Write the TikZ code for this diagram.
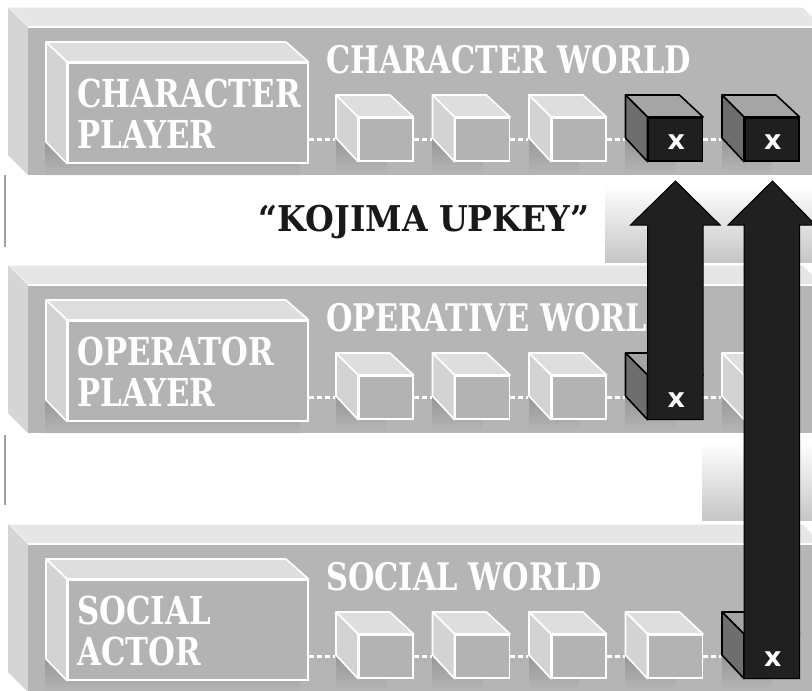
\documentclass[tikz,border=0pt]{standalone}
\usepackage{fontspec}
\setmainfont{DejaVu Serif}[FakeStretch=0.8]
\newfontfamily\xfont{DejaVu Sans}
\newfontfamily\labelfont{DejaVu Serif}[FakeStretch=0.93]
\definecolor{layerfront}{HTML}{B5B5B5}
\definecolor{layertop}{HTML}{E6E6E6}
\definecolor{layerleft}{HTML}{D5D5D5}
\definecolor{lfront}{HTML}{B3B3B3}
\definecolor{ltop}{HTML}{DEDEDE}
\definecolor{lleft}{HTML}{D3D3D3}
\definecolor{dfront}{HTML}{1F1F1F}
\definecolor{dtop}{HTML}{A5A5A5}
\definecolor{dleft}{HTML}{6E6E6E}
\definecolor{arrowfill}{HTML}{202020}
\definecolor{shadowc}{HTML}{969696}
\tikzset{
  cubefrontlight/.style={draw=white, line width=1.6pt, fill=lfront, rectangle, minimum width=54pt, minimum height=43pt, inner sep=0pt},
  cubefrontdark/.style={draw=black, line width=1.6pt, fill=dfront, rectangle, minimum width=54pt, minimum height=43pt, inner sep=0pt},
  facelight/.style={draw=white, line width=1.6pt, line join=round},
  facedark/.style={draw=black, line width=1.6pt, line join=round},
  topcollight/.style={fill=ltop}, leftcollight/.style={fill=lleft},
  topcoldark/.style={fill=dtop}, leftcoldark/.style={fill=dleft},
  playerfront/.style={draw=white, line width=1.6pt, fill=lfront, rectangle, minimum width=240pt, minimum height=100pt, inner sep=0pt},
  playertext/.style={text=white, font=\bfseries\fontsize{38.5}{38.5}\selectfont, anchor=base west, inner sep=0pt},
  worldtext/.style={text=white, font=\bfseries\fontsize{38}{38}\selectfont, anchor=base west, inner sep=0pt},
  xmark/.style={text=white, font=\xfont\bfseries\fontsize{27}{27}\selectfont, inner sep=0pt},
  conn/.style={draw=white, line width=2.4pt, dash pattern=on 5pt off 3pt},
  blockarrow/.style={fill=arrowfill, draw=black, line width=1pt, line join=miter},
  sidebar/.style={draw=gray!75, line width=2pt},
  shadowfill/.style={top color=shadowc, bottom color=layerfront},
}
% #1 name, #2 x, #3 y, #4 kind (light/dark)
\newcommand\mycube[4]{%
  \shade[shadowfill] ([xshift=-22pt,yshift=22pt]#1sw) -- (#1sw) -- ++(28pt,0) -- ++(0,-13pt) -- ([xshift=-22pt,yshift=-13pt]#1sw) -- cycle;
  \node[cubefront#4, anchor=north west] (#1) at (#2,#3) {};
  \path[topcol#4, face#4] (#1.north west) -- ++(-22pt,22pt) -- ++(54pt,0) -- (#1.north east) -- cycle;
  \path[leftcol#4, face#4] (#1.north west) -- ++(-22pt,22pt) -- ++(0,-43pt) -- (#1.south west) -- cycle;
}
\newcommand\mylayer[2]{% #1 name, #2 y offset
  \fill[layertop, draw=white, line width=1pt] (8,7+#2) -- (803,7+#2) -- (823,27+#2) -- (28,27+#2) -- cycle;
  \fill[layerleft] (8,7+#2) -- (28,27+#2) -- (28,175+#2) -- (8,155+#2) -- cycle;
  \fill[layerfront] (28,27+#2) rectangle (823,175+#2);
  \draw[white, line width=1.4pt] (28,27+#2) -- (823,27+#2);
  % player box shadow
  \shade[shadowfill] (45,140+#2) -- (67,162+#2) -- (300,162+#2) -- (300,175+#2) -- (45,175+#2) -- cycle;
  \node[playerfront, anchor=north west] (#1p) at (67,62+#2) {};
  \path[fill=ltop, draw=white, line width=1.6pt, line join=round] (#1p.north west) -- ++(-21pt,20pt) -- ++(240pt,0) -- (#1p.north east) -- cycle;
  \path[fill=lleft, draw=white, line width=1.6pt, line join=round] (#1p.north west) -- ++(-21pt,20pt) -- ++(0,-100pt) -- (#1p.south west) -- cycle;
}
\begin{document}
\begin{tikzpicture}[x=1pt, y=-1pt]
\useasboundingbox (0,0) rectangle (812,691);
\fill[white] (0,0) rectangle (812,691);

% side marks
\draw[sidebar] (5,175) -- (5,247);
\draw[sidebar] (5,435) -- (5,505);

% gradient panels behind arrows
\shade[top color=white, bottom color=gray!45] (605,185) rectangle (812,262);
\shade[top color=white, bottom color=gray!45] (702,443) rectangle (812,520);

% ---------- layer 1 ----------
\mylayer{ra}{0}
\node[playertext] (rat1) at (77,107) {CHARACTER};
\node[playertext] (rat2) at (77,148) {PLAYER};
\node[worldtext] (raw) at (326,73) {CHARACTER WORLD};
\foreach \i/\x/\k in {1/358/light,2/454.5/light,3/551/light,4/647.5/dark,5/744/dark}{
  \coordinate (ra\i sw) at (\x,160);
  \mycube{ra\i}{\x}{117}{\k}
}
\draw[conn] (rap.east |- ra1.west) -- ([xshift=-23pt]ra1.west);
\draw[conn] (ra1.east) -- ([xshift=-23pt]ra2.west);
\draw[conn] (ra2.east) -- ([xshift=-23pt]ra3.west);
\draw[conn] (ra3.east) -- ([xshift=-23pt]ra4.west);
\draw[conn] (ra4.east) -- ([xshift=-23pt]ra5.west);

% ---------- layer 2 ----------
\mylayer{rb}{258}
\node[playertext] (rbt1) at (77,365) {OPERATOR};
\node[playertext] (rbt2) at (77,406) {PLAYER};
\node[worldtext] (rbw) at (326,331) {OPERATIVE WORLD};
\foreach \i/\x/\k in {1/358/light,2/454.5/light,3/551/light,4/647.5/dark,5/744/light}{
  \coordinate (rb\i sw) at (\x,418);
  \mycube{rb\i}{\x}{375}{\k}
}
\draw[conn] (rbp.east |- rb1.west) -- ([xshift=-23pt]rb1.west);
\draw[conn] (rb1.east) -- ([xshift=-23pt]rb2.west);
\draw[conn] (rb2.east) -- ([xshift=-23pt]rb3.west);
\draw[conn] (rb3.east) -- ([xshift=-23pt]rb4.west);
\draw[conn] (rb4.east) -- ([xshift=-23pt]rb5.west);

% ---------- layer 3 ----------
\mylayer{rc}{517}
\node[playertext] (rct1) at (77,624) {SOCIAL};
\node[playertext] (rct2) at (77,665) {ACTOR};
\node[worldtext] (rcw) at (326,590) {SOCIAL WORLD};
\foreach \i/\x/\k in {1/358/light,2/454.5/light,3/551/light,4/647.5/light,5/744/dark}{
  \coordinate (rc\i sw) at (\x,677);
  \mycube{rc\i}{\x}{634}{\k}
}
\draw[conn] (rcp.east |- rc1.west) -- ([xshift=-23pt]rc1.west);
\draw[conn] (rc1.east) -- ([xshift=-23pt]rc2.west);
\draw[conn] (rc2.east) -- ([xshift=-23pt]rc3.west);
\draw[conn] (rc3.east) -- ([xshift=-23pt]rc4.west);
\draw[conn] (rc4.east) -- ([xshift=-23pt]rc5.west);

% ---------- label ----------
\node[text=black!90, font=\labelfont\bfseries\fontsize{35.5}{35.5}\selectfont, inner sep=0pt] (kojima) at (424,222) {“KOJIMA UPKEY”};

% ---------- block arrows ----------
\coordinate (a1tip) at (675.5,181);
\coordinate (a2tip) at (772.5,181);
\path[blockarrow] (rb4.south west) -- (rb4.south west |- 0,225) -- ++(-17pt,0) -- (a1tip) -- ([xshift=17pt]rb4.south east |- 0,225) -- (rb4.south east |- 0,225) -- (rb4.south east) -- cycle;
\path[blockarrow] (rc5.south west) -- (rc5.south west |- 0,225) -- ++(-16pt,0) -- (a2tip) -- ([xshift=16pt]rc5.south east |- 0,225) -- (rc5.south east |- 0,225) -- (rc5.south east) -- cycle;

% x marks
\foreach \n in {ra4,ra5,rb4,rc5}{
  \node[xmark] at ([xshift=1pt,yshift=-3pt]\n.center) {x};
}
\end{tikzpicture}
\end{document}
